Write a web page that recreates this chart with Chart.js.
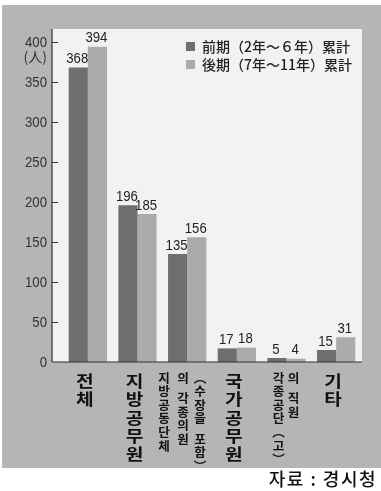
<!DOCTYPE html>
<html><head><meta charset="utf-8">
<script src="https://cdn.jsdelivr.net/npm/chart.js@4/dist/chart.umd.min.js"></script>
<style>html,body{margin:0;padding:0;background:#fff;}#wrap{width:381px;height:491px;position:relative}</style>
</head><body><div id="wrap"><canvas id="c" width="381" height="491"></canvas></div>
<script>
// ---- data ----
const categories = ['전체', '지방공무원', '지방공동단체의 각종의원(수장을 포함)', '국가공무원', '각종공단(고)의 직원', '기타'];
const labelColumns = [
  ['전체'],
  ['지방공무원'],
  ['지방공동단체', '의 각종의원', '︵수장을 포함︶'],
  ['국가공무원'],
  ['각종공단︵고︶', '의 직원'],
  ['기타']
];
const seriesNames = ['前期（2年～６年）累計', '後期（7年～11年）累計'];
const earlyValues = [368, 196, 135, 17, 5, 15];
const lateValues = [394, 185, 156, 18, 4, 31];
const yTickStep = 50;
const yMax = 400;
const yUnit = '(人)';
const sourceText = '자료 : 경시청';

// ---- styles ----
const DARK = '#6f6f6f', LIGHT = '#ababab';
const NUM_FONT = "'Liberation Sans',Arial,sans-serif";
const KR_FONT = "'Noto Sans CJK KR','Noto Sans',sans-serif";
const JP_FONT = "'Noto Sans CJK JP','Noto Sans',sans-serif";
const colOffsets = {3: [-23, -4, 13], 2: [-8, 7]};

function drawText(ctx, s, x, y, sx) {
  ctx.save();
  ctx.translate(x, y);
  ctx.scale(sx, 1);
  ctx.fillText(s, 0, 0);
  ctx.restore();
}

const deco = {
  id: 'deco',
  beforeDraw(chart) {
    const {ctx, chartArea: a} = chart;
    ctx.save();
    ctx.fillStyle = '#ffffff';
    ctx.fillRect(0, 0, chart.width, chart.height);
    ctx.fillStyle = '#b5b5b5';
    ctx.fillRect(2, 5, chart.width - 2, 463);
    ctx.fillStyle = '#f2f2f2';
    ctx.fillRect(a.left - 11, a.top - 13, a.right - a.left + 12, a.bottom - a.top + 13);
    ctx.restore();
  },
  afterDatasetsDraw(chart) {
    const {ctx, chartArea: a} = chart;
    const y = chart.scales.y, x = chart.scales.x;
    const axX = a.left - 11;
    ctx.save();
    // axes
    ctx.strokeStyle = '#333';
    ctx.lineWidth = 1.2;
    ctx.beginPath();
    ctx.moveTo(axX, a.top - 13); ctx.lineTo(axX, a.bottom);
    ctx.moveTo(axX, a.bottom); ctx.lineTo(a.right + 1, a.bottom);
    y.ticks.forEach(t => {
      if (t.value === 0) return;
      const py = Math.round(y.getPixelForValue(t.value)) + 0.5;
      ctx.moveTo(axX, py); ctx.lineTo(axX + 6, py);
    });
    ctx.stroke();
    // y tick labels (condensed)
    ctx.fillStyle = '#333';
    ctx.font = "15.5px " + NUM_FONT;
    ctx.textAlign = 'right';
    ctx.textBaseline = 'middle';
    y.ticks.forEach(t => {
      drawText(ctx, String(t.value), 47, y.getPixelForValue(t.value) + 1, 0.85);
    });
    // unit
    ctx.font = "14px " + JP_FONT;
    ctx.fillText(yUnit, 47, y.getPixelForValue(yMax) + 15);
    // value labels
    ctx.font = "15.5px " + NUM_FONT;
    ctx.textAlign = 'center';
    ctx.textBaseline = 'bottom';
    ctx.fillStyle = '#222';
    chart.data.datasets.forEach((ds, di) => {
      chart.getDatasetMeta(di).data.forEach((bar, i) => {
        drawText(ctx, String(ds.data[i]), bar.x - 1, bar.y - 1, 0.85);
      });
    });
    // legend
    chart.data.datasets.forEach((ds, di) => {
      const ly = a.top + 4 + di * 18;
      ctx.fillStyle = ds.backgroundColor;
      ctx.fillRect(186, ly - 4, 9, 9);
      ctx.fillStyle = '#222';
      ctx.font = "500 14px " + JP_FONT;
      ctx.textAlign = 'left';
      ctx.textBaseline = 'middle';
      ctx.fillText(ds.label, 202, ly + 1);
    });
    // category labels (vertical)
    ctx.fillStyle = '#111';
    ctx.textAlign = 'center';
    ctx.textBaseline = 'middle';
    labelColumns.forEach((cols, i) => {
      const cx = x.getPixelForValue(i);
      if (cols.length === 1) {
        ctx.font = "bold 16px " + KR_FONT;
        let yy = a.bottom + 19;
        for (const ch of cols[0]) {
          drawText(ctx, ch, cx - 3, yy, 1.2);
          yy += 18.3;
        }
      } else {
        const offs = colOffsets[cols.length];
        ctx.font = "bold 12px " + KR_FONT;
        cols.forEach((col, ci) => {
          let yy = a.bottom + 16;
          const pitch = 13.6;
          for (const ch of col) {
            if (ch === ' ') { yy += pitch * 0.5; continue; }
            drawText(ctx, ch, cx + offs[ci], yy, 1.05);
            yy += pitch;
          }
        });
      }
    });
    // source
    ctx.font = "500 18px " + KR_FONT;
    ctx.textAlign = 'right';
    ctx.fillStyle = '#111';
    ctx.letterSpacing = '1.5px';
    ctx.fillText(sourceText, 377, 479);
    ctx.restore();
  }
};

new Chart(document.getElementById('c'), {
  type: 'bar',
  data: {
    labels: categories,
    datasets: [
      {label: seriesNames[0], data: earlyValues, backgroundColor: DARK},
      {label: seriesNames[1], data: lateValues, backgroundColor: LIGHT}
    ]
  },
  options: {
    responsive: false,
    devicePixelRatio: 1,
    animation: false,
    layout: {padding: {left: 0, right: 20, top: 42, bottom: 129}},
    categoryPercentage: 0.77,
    barPercentage: 1,
    plugins: {legend: {display: false}, tooltip: {enabled: false}},
    scales: {
      x: {display: false},
      y: {
        min: 0, max: yMax,
        grid: {display: false, drawTicks: false},
        border: {display: false},
        ticks: {display: false, stepSize: yTickStep},
        afterFit(s) { s.width = 63; }
      }
    }
  },
  plugins: [deco]
});
</script></body></html>
